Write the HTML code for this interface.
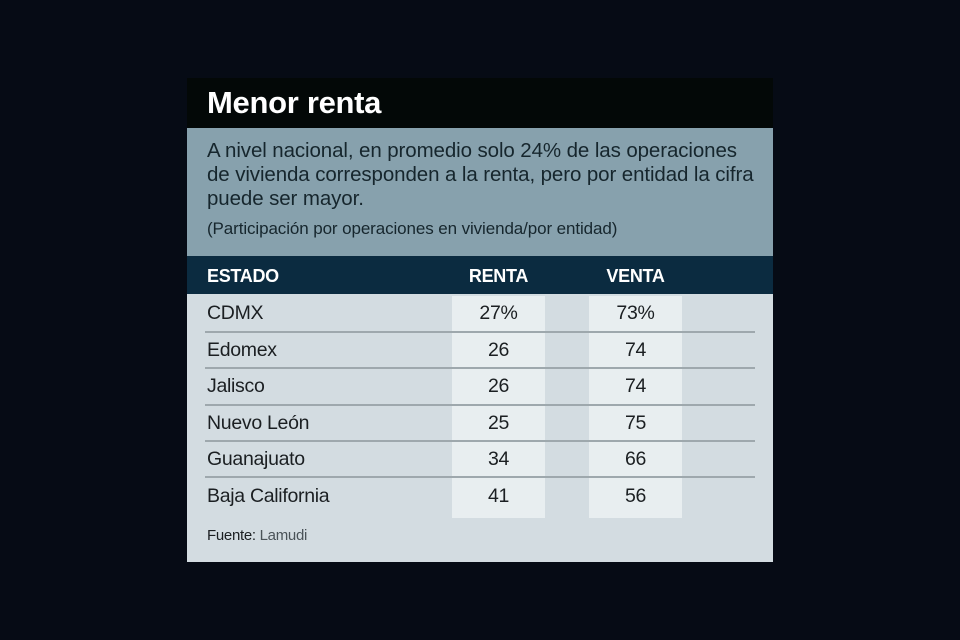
<!DOCTYPE html>
<html><head><meta charset="utf-8"><style>
*{margin:0;padding:0;box-sizing:border-box}
body{width:960px;height:640px;background:#060b15;position:relative;overflow:hidden;font-family:"Liberation Sans",sans-serif}
.a{position:absolute;white-space:nowrap}
</style></head><body>
<div class="a" style="left:187px;top:78px;width:586px;height:50px;background:#030807"></div>
<div class="a" style="left:207px;top:85px;font-size:31px;font-weight:bold;color:#fff;letter-spacing:-0.3px">Menor renta</div>
<div class="a" style="left:187px;top:128px;width:586px;height:128px;background:#87a1ad"></div>
<div class="a" style="left:207px;top:139px;font-size:20.5px;line-height:24px;color:#16262d;letter-spacing:-0.1px">A nivel nacional, en promedio solo 24% de las operaciones<br>de vivienda corresponden a la renta, pero por entidad la cifra<br>puede ser mayor.</div>
<div class="a" style="left:207px;top:219px;font-size:17px;color:#16262d;letter-spacing:-0.1px">(Participación por operaciones en vivienda/por entidad)</div>
<div class="a" style="left:187px;top:256px;width:586px;height:38px;background:#0b2b40"></div>
<div class="a" style="left:207px;top:266px;font-size:18px;font-weight:bold;color:#fff;letter-spacing:-0.3px">ESTADO</div>
<div class="a" style="left:452px;width:93px;top:266px;text-align:center;font-size:18px;font-weight:bold;color:#fff;letter-spacing:-0.3px">RENTA</div>
<div class="a" style="left:589px;width:93px;top:266px;text-align:center;font-size:18px;font-weight:bold;color:#fff;letter-spacing:-0.3px">VENTA</div>
<div class="a" style="left:187px;top:294px;width:586px;height:268px;background:#d3dce1"></div>
<div class="a" style="left:452px;top:296px;width:93px;height:222px;background:#e8eef0"></div>
<div class="a" style="left:589px;top:296px;width:93px;height:222px;background:#e8eef0"></div>
<div class="a" style="left:205px;top:331px;width:550px;height:2px;background:#9ea8ad"></div>
<div class="a" style="left:205px;top:367px;width:550px;height:2px;background:#9ea8ad"></div>
<div class="a" style="left:205px;top:404px;width:550px;height:2px;background:#9ea8ad"></div>
<div class="a" style="left:205px;top:440px;width:550px;height:2px;background:#9ea8ad"></div>
<div class="a" style="left:205px;top:476px;width:550px;height:2px;background:#9ea8ad"></div>
<div style="position:absolute;left:0;top:302px;font-size:19.5px;color:#1b1f22;letter-spacing:-0.3px">
<div class="a" style="left:207px;top:0">CDMX</div><div class="a" style="left:452px;width:93px;text-align:center;top:0">27%</div><div class="a" style="left:589px;width:93px;text-align:center;top:0">73%</div>
<div class="a" style="left:207px;top:37px">Edomex</div><div class="a" style="left:452px;width:93px;text-align:center;top:37px">26</div><div class="a" style="left:589px;width:93px;text-align:center;top:37px">74</div>
<div class="a" style="left:207px;top:73px">Jalisco</div><div class="a" style="left:452px;width:93px;text-align:center;top:73px">26</div><div class="a" style="left:589px;width:93px;text-align:center;top:73px">74</div>
<div class="a" style="left:207px;top:110px">Nuevo León</div><div class="a" style="left:452px;width:93px;text-align:center;top:110px">25</div><div class="a" style="left:589px;width:93px;text-align:center;top:110px">75</div>
<div class="a" style="left:207px;top:146px">Guanajuato</div><div class="a" style="left:452px;width:93px;text-align:center;top:146px">34</div><div class="a" style="left:589px;width:93px;text-align:center;top:146px">66</div>
<div class="a" style="left:207px;top:183px">Baja California</div><div class="a" style="left:452px;width:93px;text-align:center;top:183px">41</div><div class="a" style="left:589px;width:93px;text-align:center;top:183px">56</div>
</div>
<div class="a" style="left:207px;top:527px;font-size:15px;color:#1b1f22;letter-spacing:-0.3px">Fuente: <span style="color:#4a5358">Lamudi</span></div>
</body></html>
